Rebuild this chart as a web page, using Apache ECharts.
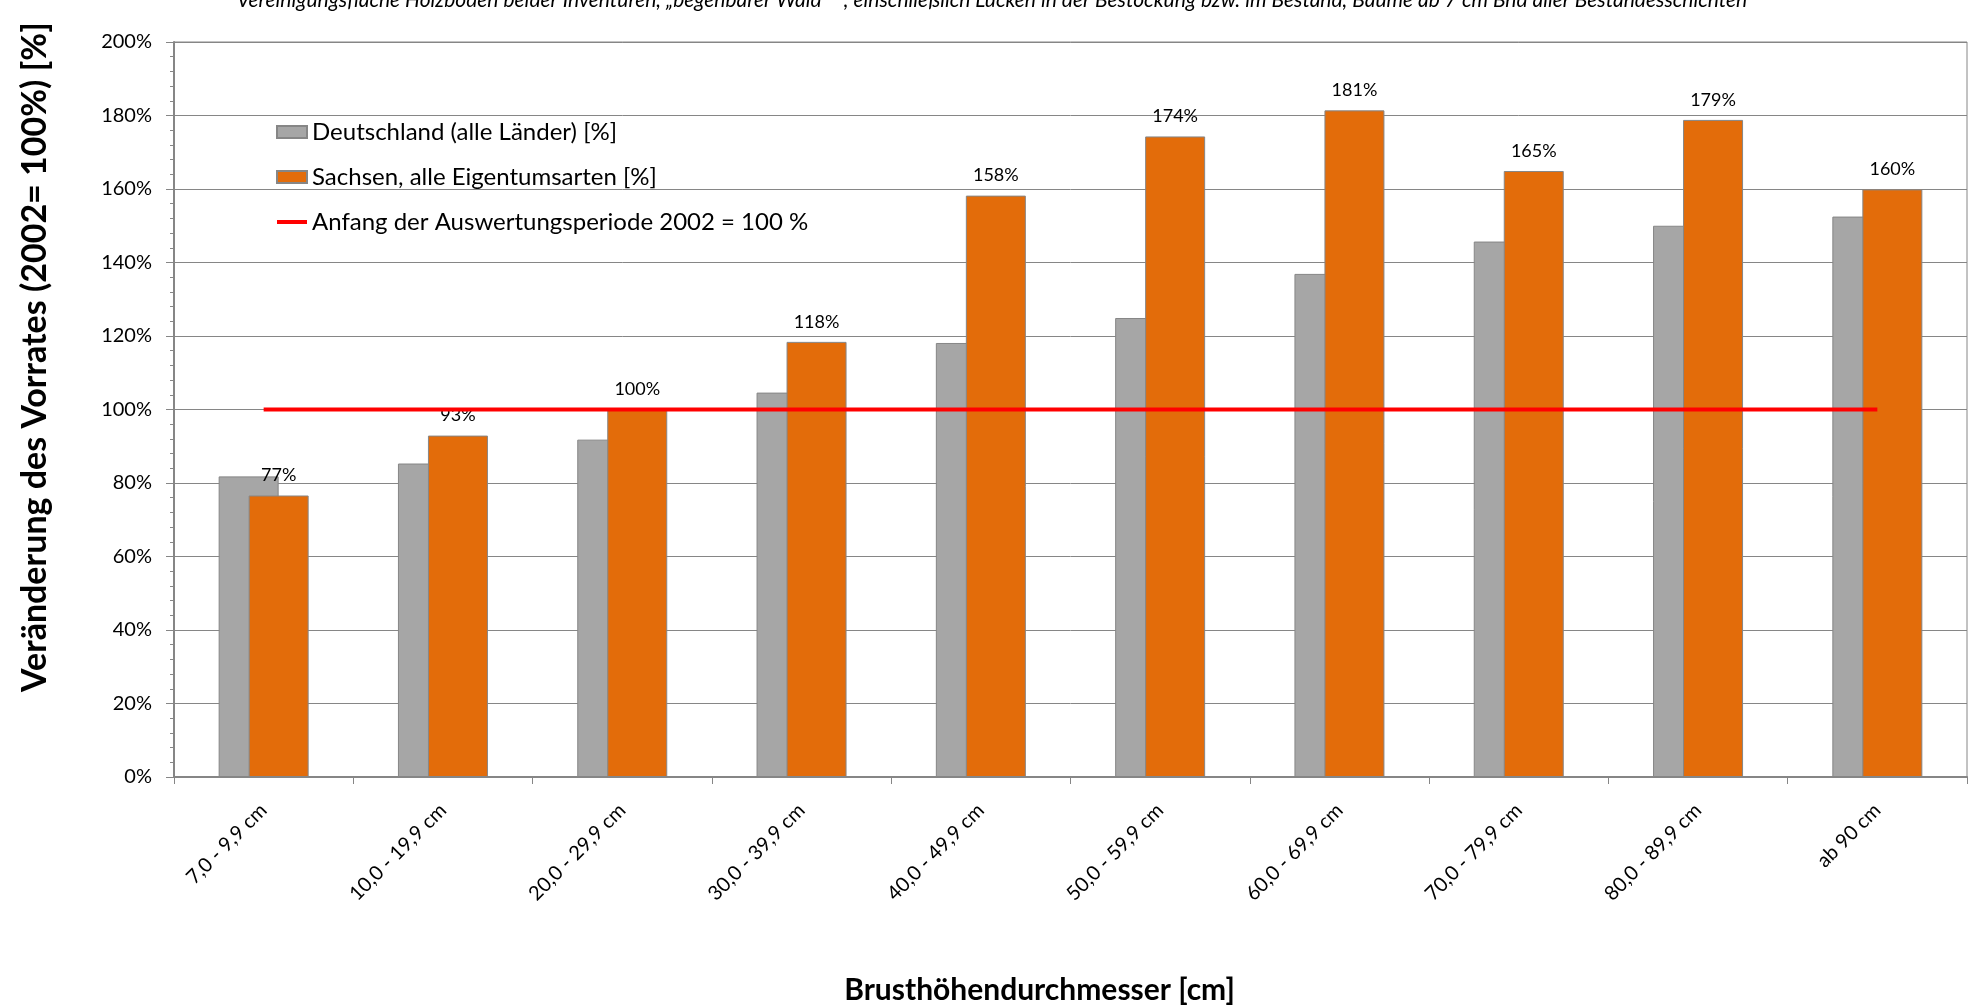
<!DOCTYPE html>
<html>
<head>
<meta charset="utf-8">
<script src="https://cdn.jsdelivr.net/npm/echarts@6/dist/echarts.min.js"></script>
<style>
  html, body { margin: 0; padding: 0; background: #fff; }
  #chart { width: 1984px; height: 1006px; }
</style>
</head>
<body>
<div id="chart"></div>
<script>
    var categories = ['7,0 - 9,9 cm', '10,0 - 19,9 cm', '20,0 - 29,9 cm', '30,0 - 39,9 cm', '40,0 - 49,9 cm',
        '50,0 - 59,9 cm', '60,0 - 69,9 cm', '70,0 - 79,9 cm', '80,0 - 89,9 cm', 'ab 90 cm'];
    // Deutschland (alle Länder)
    var deutschland = [81.8, 85.3, 91.8, 104.6, 118.1, 124.9, 136.9, 145.7, 150.0, 152.5];
    // Sachsen, alle Eigentumsarten
    var sachsen = [76.6, 92.9, 100.0, 118.4, 158.2, 174.3, 181.4, 164.9, 178.8, 159.9];
    // Referenzlinie 2002 = 100 %
    var referenz = [100, 100, 100, 100, 100, 100, 100, 100, 100, 100];

    var fontName = 'Lato';
    var axisGray = '#868686';

    var myChart = echarts.init(document.getElementById('chart'));

    var option = {
        backgroundColor: '#fff',
        animation: false,
        title: {
            text: 'Vereinigungsfläche Holzboden beider Inventuren, „begehbarer Wald“  “, einschließlich Lücken in der Bestockung bzw. im Bestand, Bäume ab 7 cm Bhd aller Bestandesschichten',
            left: 'center',
            top: -15,
            textStyle: {
                fontFamily: fontName,
                fontStyle: 'italic',
                fontWeight: 'normal',
                fontSize: 21,
                color: '#000'
            }
        },
        legend: {
            orient: 'vertical',
            left: 270,
            top: 115,
            itemWidth: 30,
            itemHeight: 12,
            itemGap: 21,
            textStyle: {fontFamily: fontName, fontSize: 24, color: '#000'},
            data: [
                {name: 'Deutschland (alle Länder) [%]', icon: 'rect'},
                {name: 'Sachsen, alle Eigentumsarten [%]', icon: 'rect'},
                {
                    name: 'Anfang der Auswertungsperiode 2002 = 100 %',
                    itemStyle: {opacity: 0},
                    lineStyle: {width: 4, color: '#ff0000'}
                }
            ]
        },
        grid: {
            left: 174,
            right: 17,
            top: 42,
            bottom: 229,
            outerBoundsMode: 'none',
            show: true,
            borderColor: axisGray,
            borderWidth: 1
        },
        xAxis: {
            type: 'category',
            data: categories,
            name: 'Brusthöhendurchmesser [cm]',
            nameLocation: 'middle',
            nameGap: 198,
            nameTextStyle: {
                fontFamily: fontName, fontWeight: 'bold', fontSize: 30, color: '#000',
                padding: [0, 62, 0, 0]
            },
            axisLine: {lineStyle: {color: axisGray, width: 2}},
            axisTick: {show: true, length: 7, lineStyle: {color: axisGray}},
            axisLabel: {
                rotate: 45,
                margin: 30,
                fontFamily: fontName,
                fontSize: 20,
                color: '#000'
            }
        },
        yAxis: {
            type: 'value',
            min: 0,
            max: 200,
            interval: 20,
            name: 'Veränderung des Vorrates (2002= 100%) [%]',
            nameLocation: 'middle',
            nameRotate: 90,
            nameGap: 122,
            nameTextStyle: {
                fontFamily: fontName, fontWeight: 'bold', fontSize: 34, color: '#000',
                padding: [0, 0, 0, 105]
            },
            axisLine: {show: true, lineStyle: {color: axisGray, width: 2}},
            axisTick: {show: true, length: 8, lineStyle: {color: axisGray}},
            minorTick: {show: true, splitNumber: 5, length: 4, lineStyle: {color: axisGray}},
            splitLine: {lineStyle: {color: axisGray, width: 1}},
            axisLabel: {
                formatter: '{value}%',
                margin: 22,
                fontFamily: fontName,
                fontSize: 20,
                color: '#000'
            }
        },
        series: [
            {
                name: 'Deutschland (alle Länder) [%]',
                type: 'bar',
                data: deutschland,
                barWidth: 60,
                barGap: '-50%',
                itemStyle: {color: '#a6a6a6', borderColor: axisGray, borderWidth: 1}
            },
            {
                name: 'Sachsen, alle Eigentumsarten [%]',
                type: 'bar',
                data: sachsen,
                barWidth: 60,
                barGap: '-50%',
                itemStyle: {color: '#e36c0a', borderColor: axisGray, borderWidth: 1},
                label: {
                    show: true,
                    position: 'top',
                    distance: 11,
                    fontFamily: fontName,
                    fontSize: 18,
                    color: '#000',
                    formatter: function (p) { return Math.round(p.value) + '%'; }
                }
            },
            {
                name: 'Anfang der Auswertungsperiode 2002 = 100 %',
                type: 'line',
                data: referenz,
                symbol: 'none',
                z: 5,
                lineStyle: {color: '#ff0000', width: 4},
                itemStyle: {color: '#ff0000'}
            }
        ]
    };

    myChart.setOption(option);
</script>
</body>
</html>
